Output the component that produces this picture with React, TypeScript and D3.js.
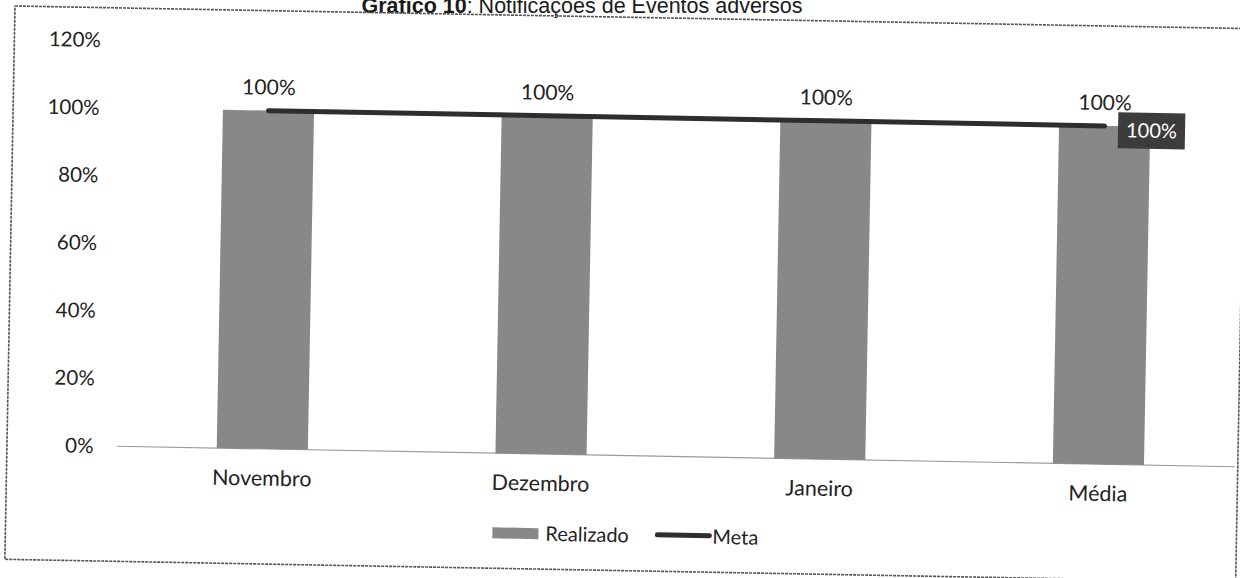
import * as d3 from "d3";
import React from "react";

const categories = ["Novembro", "Dezembro", "Janeiro", "Média"];
const realizado = [1, 1, 1, 1];
const meta = [1, 1, 1, 1];
const yTicks = [0, 0.2, 0.4, 0.6, 0.8, 1.0, 1.2];
const legendLabels = ["Realizado", "Meta"];
const titleBold = "Gráfico 10";
const titleRest = ": Notificações de Eventos adversos";

const W = 1240;
const H = 578;

export default function App() {
  const x = d3
    .scaleBand<string>()
    .domain(categories)
    .range([131, 1246])
    .paddingInner(0.673)
    .paddingOuter(0.3365);
  const y = d3.scaleLinear().domain([0, 1.2]).range([444.3, 38.3]);
  const fmt = d3.format(".0%");
  const bw = x.bandwidth();
  const cx = (c: string) => (x(c) as number) + bw / 2;

  const metaLine = d3
    .line<number>()
    .x((_, i) => cx(categories[i]))
    .y((d) => y(d))(meta) as string;

  const lastCat = categories[categories.length - 1];
  const lastMeta = meta[meta.length - 1];
  const font = "Lato, 'Open Sans', sans-serif";
  const textColor = "#222";

  return (
    <div>
      <style>{`body{margin:0;background:#fff}`}</style>
      <svg
        width={W}
        height={H}
        viewBox={`0 0 ${W} ${H}`}
        style={{ position: "absolute", left: 0, top: 0, background: "#fff" }}
      >
        <text
          x={582}
          y={13}
          textAnchor="middle"
          fontFamily="'Liberation Sans', Arial, sans-serif"
          fontSize={21.5}
          fill="#1a1a1a"
        >
          <tspan fontWeight="bold">{titleBold}</tspan>
          <tspan>{titleRest}</tspan>
        </text>
        <g transform="rotate(1.05, 15, 6)">
          {/* frame */}
          <rect
            x={15}
            y={6}
            width={1231}
            height={553.4}
            fill="none"
            stroke="#555"
            strokeWidth={1.6}
            strokeDasharray="3 1"
          />
          {/* y tick labels */}
          {yTicks.map((t) => (
            <text
              key={t}
              x={101.5}
              y={y(t)}
              dy="0.35em"
              textAnchor="end"
              fontFamily={font}
              fontSize={20.5}
              fill={textColor}
            >
              {fmt(t)}
            </text>
          ))}
          {/* baseline */}
          <line
            x1={125}
            x2={1243}
            y1={y(0)}
            y2={y(0)}
            stroke="#9a9a9a"
            strokeWidth={1.2}
          />
          {/* bars */}
          {categories.map((c, i) => (
            <rect
              key={c}
              x={x(c)}
              y={y(realizado[i])}
              width={bw}
              height={y(0) - y(realizado[i])}
              fill="#888888"
            />
          ))}
          {/* bar data labels */}
          {categories.map((c, i) => (
            <text
              key={"l" + c}
              x={cx(c)}
              y={y(realizado[i]) - 16}
              textAnchor="middle"
              fontFamily={font}
              fontSize={21}
              fill={textColor}
            >
              {fmt(realizado[i])}
            </text>
          ))}
          {/* meta line */}
          <path
            d={metaLine}
            fill="none"
            stroke="#2e2e2e"
            strokeWidth={5}
            strokeLinecap="round"
          />
          {/* meta last label */}
          <rect
            x={cx(lastCat) + 13.5}
            y={y(lastMeta) - 14}
            width={67}
            height={36}
            fill="#3c3c3c"
          />
          <text
            x={cx(lastCat) + 47}
            y={y(lastMeta) + 4}
            dy="0.35em"
            textAnchor="middle"
            fontFamily={font}
            fontSize={20}
            fill="#fff"
          >
            {fmt(lastMeta)}
          </text>
          {/* category labels */}
          {categories.map((c) => (
            <text
              key={"c" + c}
              x={cx(c)}
              y={481}
              textAnchor="middle"
              fontFamily={font}
              fontSize={21.5}
              fill={textColor}
            >
              {c}
            </text>
          ))}
          {/* legend */}
          <rect x={502} y={518.5} width={46} height={11} fill="#888888" />
          <text
            x={555}
            y={531}
            fontFamily={font}
            fontSize={20}
            fill={textColor}
          >
            {legendLabels[0]}
          </text>
          <line
            x1={667}
            x2={719}
            y1={523}
            y2={523}
            stroke="#2e2e2e"
            strokeWidth={5}
            strokeLinecap="round"
          />
          <text
            x={722}
            y={531}
            fontFamily={font}
            fontSize={20}
            fill={textColor}
          >
            {legendLabels[1]}
          </text>
        </g>
      </svg>
    </div>
  );
}
